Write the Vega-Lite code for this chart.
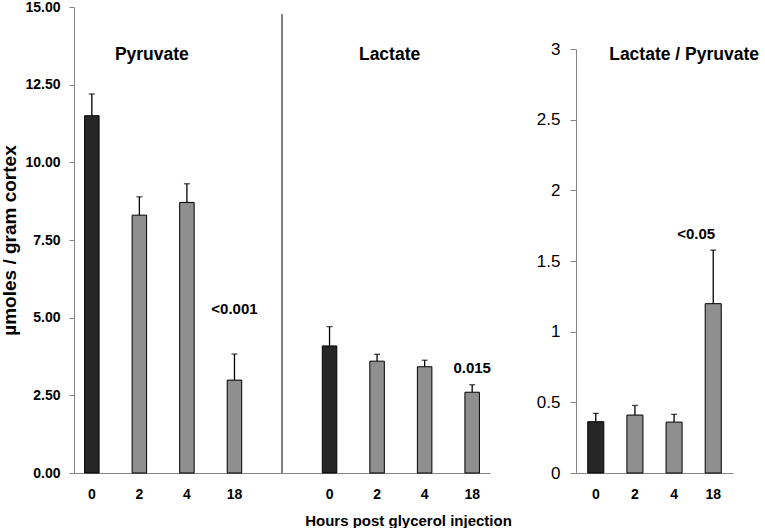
{
  "$schema": "https://vega.github.io/schema/vega-lite/v6.json",
  "padding": {"left": 0, "top": 0, "right": 0, "bottom": 0},
  "width": 659,
  "height": 466,
  "config": {"view": {"stroke": null}, "font": "Liberation Sans", "text": {"color": "black"}},
  "datasets": {
    "metab": [
      {"slot": "P0", "value": 11.5, "upper": 12.2, "pattern": "dotted"},
      {"slot": "P2", "value": 8.3, "upper": 8.89, "pattern": "hatched"},
      {"slot": "P4", "value": 8.71, "upper": 9.31, "pattern": "hatched"},
      {"slot": "P18", "value": 2.99, "upper": 3.83, "pattern": "hatched"},
      {"slot": "L0", "value": 4.09, "upper": 4.71, "pattern": "dotted"},
      {"slot": "L2", "value": 3.6, "upper": 3.82, "pattern": "hatched"},
      {"slot": "L4", "value": 3.42, "upper": 3.63, "pattern": "hatched"},
      {"slot": "L18", "value": 2.6, "upper": 2.84, "pattern": "hatched"}
    ],
    "divider": [{"slot": "gap", "y0": 0, "y1": 14.77}],
    "groupLabels": [
      {"slot": "P2", "y": 13.47, "label": "Pyruvate"},
      {"slot": "L2", "y": 13.47, "label": "Lactate"}
    ],
    "pLabels": [
      {"slot": "P18", "y": 5.28, "label": "<0.001"},
      {"slot": "L18", "y": 3.37, "label": "0.015"}
    ],
    "ratio": [
      {"hour": "0", "value": 0.363, "upper": 0.422, "pattern": "dotted"},
      {"hour": "2", "value": 0.41, "upper": 0.478, "pattern": "hatched"},
      {"hour": "4", "value": 0.36, "upper": 0.415, "pattern": "hatched"},
      {"hour": "18", "value": 1.198, "upper": 1.577, "pattern": "hatched"}
    ],
    "ratioLabels": [
      {"hour": "4", "y": 2.961, "label": "Lactate / Pyruvate"}
    ],
    "ratioP": [
      {"hour": "18", "y": 1.694, "label": "<0.05"}
    ]
  },
  "layer": [
    {
      "layer": [
        {
          "data": {"name": "metab"},
          "mark": {"type": "bar", "stroke": "black", "strokeWidth": 1},
          "encoding": {
            "x": {
              "field": "slot", "type": "nominal",
              "scale": {"domain": ["P0", "P2", "P4", "P18", "gap", "L0", "L2", "L4", "L18"], "range": [0, 416], "paddingInner": 0.695, "paddingOuter": 0.2225},
              "title": "Hours post glycerol injection",
              "axis": {
                "orient": "bottom",
                "labelAngle": 0,
                "labelExpr": "datum.value == 'gap' ? '' : slice(datum.value, 1)",
                "labelFontSize": 14, "labelFontWeight": "bold", "labelColor": "black",
                "ticks": false, "tickSize": 0, "labelPadding": 14,
                "domainColor": "#868686", "domainWidth": 1,
                "titleFontSize": 15, "titleFontWeight": "bold", "titleColor": "black",
                "titlePadding": 12, "titleX": 334
              }
            },
            "y": {
              "field": "value", "type": "quantitative",
              "scale": {"domain": [0, 15], "nice": false},
              "title": "µmoles / gram cortex",
              "axis": {
                "orient": "left",
                "values": [0, 2.5, 5, 7.5, 10, 12.5, 15], "format": ".2f",
                "grid": false,
                "labelFontSize": 14, "labelFontWeight": "bold", "labelColor": "black",
                "tickSize": 5, "tickColor": "#868686", "domainColor": "#868686",
                "labelPadding": 9,
                "titleFontSize": 19, "titleFontWeight": "bold", "titleColor": "black",
                "titlePadding": 5
              }
            },
            "fill": {
              "field": "pattern", "type": "nominal",
              "scale": {"domain": ["dotted", "hatched"], "range": ["#262626", "#8f8f8f"]},
              "legend": null
            }
          }
        },
        {
          "data": {"name": "metab"},
          "mark": {"type": "rule", "color": "black", "strokeWidth": 1.3},
          "encoding": {
            "x": {"field": "slot", "type": "nominal"},
            "y": {"field": "value", "type": "quantitative"},
            "y2": {"field": "upper"}
          }
        },
        {
          "data": {"name": "metab"},
          "mark": {"type": "tick", "color": "black", "thickness": 1.3, "size": 6},
          "encoding": {
            "x": {"field": "slot", "type": "nominal"},
            "y": {"field": "upper", "type": "quantitative"}
          }
        },
        {
          "data": {"name": "divider"},
          "mark": {"type": "rule", "color": "black", "strokeWidth": 1},
          "encoding": {
            "x": {"field": "slot", "type": "nominal"},
            "y": {"field": "y0", "type": "quantitative"},
            "y2": {"field": "y1"}
          }
        },
        {
          "data": {"name": "groupLabels"},
          "mark": {"type": "text", "fontWeight": "bold", "fontSize": 17.5, "dx": 12.5},
          "encoding": {
            "x": {"field": "slot", "type": "nominal"},
            "y": {"field": "y", "type": "quantitative"},
            "text": {"field": "label"}
          }
        },
        {
          "data": {"name": "pLabels"},
          "mark": {"type": "text", "fontWeight": "bold", "fontSize": 15},
          "encoding": {
            "x": {"field": "slot", "type": "nominal"},
            "y": {"field": "y", "type": "quantitative"},
            "text": {"field": "label"}
          }
        }
      ]
    },
    {
      "layer": [
        {
          "data": {"name": "ratio"},
          "mark": {"type": "bar", "stroke": "black", "strokeWidth": 1},
          "encoding": {
            "x": {
              "field": "hour", "type": "nominal",
              "scale": {"domain": ["0", "2", "4", "18"], "range": [502, 659], "paddingInner": 0.59, "paddingOuter": 0.3},
              "title": null,
              "axis": {
                "orient": "bottom",
                "labelAngle": 0,
                "labelFontSize": 14, "labelFontWeight": "bold", "labelColor": "black",
                "ticks": false, "tickSize": 0, "labelPadding": 14,
                "domainColor": "#868686"
              }
            },
            "y": {
              "field": "value", "type": "quantitative",
              "scale": {"domain": [0, 3], "nice": false, "range": [466, 42]},
              "title": null,
              "axis": {
                "orient": "left",
                "offset": -502,
                "values": [0, 0.5, 1, 1.5, 2, 2.5, 3],
                "format": "~g",
                "grid": false,
                "labelFontSize": 17, "labelColor": "black",
                "tickSize": 6, "tickColor": "#868686", "domainColor": "#868686",
                "labelPadding": 10
              }
            },
            "fill": {
              "field": "pattern", "type": "nominal",
              "scale": {"domain": ["dotted", "hatched"], "range": ["#262626", "#8f8f8f"]},
              "legend": null
            }
          }
        },
        {
          "data": {"name": "ratio"},
          "mark": {"type": "rule", "color": "black", "strokeWidth": 1.3},
          "encoding": {
            "x": {"field": "hour", "type": "nominal"},
            "y": {"field": "value", "type": "quantitative"},
            "y2": {"field": "upper"}
          }
        },
        {
          "data": {"name": "ratio"},
          "mark": {"type": "tick", "color": "black", "thickness": 1.3, "size": 6},
          "encoding": {
            "x": {"field": "hour", "type": "nominal"},
            "y": {"field": "upper", "type": "quantitative"}
          }
        },
        {
          "data": {"name": "ratioLabels"},
          "mark": {"type": "text", "fontWeight": "bold", "fontSize": 17.5, "dx": 10},
          "encoding": {
            "x": {"field": "hour", "type": "nominal"},
            "y": {"field": "y", "type": "quantitative"},
            "text": {"field": "label"}
          }
        },
        {
          "data": {"name": "ratioP"},
          "mark": {"type": "text", "fontWeight": "bold", "fontSize": 15, "dx": -17},
          "encoding": {
            "x": {"field": "hour", "type": "nominal"},
            "y": {"field": "y", "type": "quantitative"},
            "text": {"field": "label"}
          }
        }
      ]
    }
  ],
  "resolve": {
    "scale": {"x": "independent", "y": "independent"},
    "axis": {"x": "independent", "y": "independent"}
  }
}
